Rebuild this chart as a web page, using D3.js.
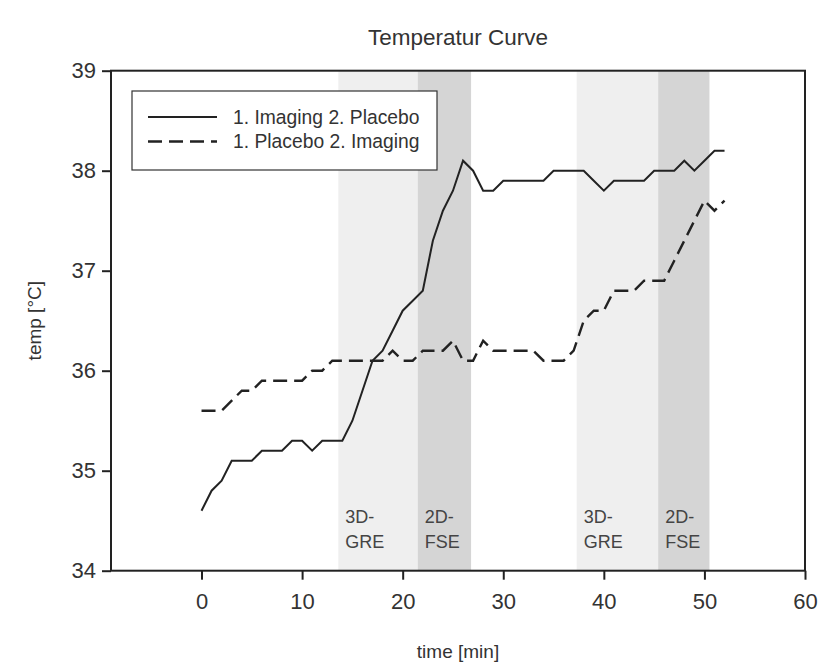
<!DOCTYPE html>
<html>
<head>
<meta charset="utf-8">
<script src="https://cdn.jsdelivr.net/npm/d3@7"></script>
<style>
  body { margin: 0; background: #fff; }
  svg text { font-family: "Liberation Sans", Arial, sans-serif; fill: #333; }
</style>
</head>
<body>
<svg id="chart" width="832" height="664"></svg>
<script>
// minutes 0..52
var minutes = [0,1,2,3,4,5,6,7,8,9,10,11,12,13,14,15,16,17,18,19,20,21,22,23,24,25,
  26,27,28,29,30,31,32,33,34,35,36,37,38,39,40,41,42,43,44,45,46,47,48,49,50,51,52];

var imagingFirst = [34.6,34.8,34.9,35.1,35.1,35.1,35.2,35.2,35.2,35.3,35.3,35.2,35.3,35.3,35.3,35.5,
  35.8,36.1,36.2,36.4,36.6,36.7,36.8,37.3,37.6,37.8,38.1,38.0,37.8,37.8,37.9,37.9,37.9,37.9,37.9,
  38.0,38.0,38.0,38.0,37.9,37.8,37.9,37.9,37.9,37.9,38.0,38.0,38.0,38.1,38.0,38.1,38.2,38.2];

var placeboFirst = [35.6,35.6,35.6,35.7,35.8,35.8,35.9,35.9,35.9,35.9,35.9,36.0,36.0,36.1,36.1,36.1,
  36.1,36.1,36.1,36.2,36.1,36.1,36.2,36.2,36.2,36.3,36.1,36.1,36.3,36.2,36.2,36.2,36.2,36.2,36.1,
  36.1,36.1,36.2,36.5,36.6,36.6,36.8,36.8,36.8,36.9,36.9,36.9,37.1,37.3,37.5,37.7,37.6,37.7];

var seriesNames = ["1. Imaging 2. Placebo", "1. Placebo 2. Imaging"];

// scan sequences (start, end in minutes)
var phaseStart = [13.6, 21.5, 37.3, 45.4];
var phaseEnd   = [21.5, 26.8, 45.4, 50.5];
var phaseLine1 = ["3D-", "2D-", "3D-", "2D-"];
var phaseLine2 = ["GRE", "FSE", "GRE", "FSE"];
var phaseShade = ["#efefef", "#d5d5d5", "#efefef", "#d5d5d5"];

var xTicks = [0, 10, 20, 30, 40, 50, 60];
var yTicks = [34, 35, 36, 37, 38, 39];

(function() {
  var svg = d3.select("#chart");
  var m = {left: 111, right: 805, top: 70.7, bottom: 570.7};

  var x = d3.scaleLinear().domain([-9, 60]).range([m.left, m.right]);
  var y = d3.scaleLinear().domain([34, 39]).range([m.bottom, m.top]);

  // shaded phases
  var phases = phaseStart.map(function(s, i) {
    return {s: s, e: phaseEnd[i], a: phaseLine1[i], b: phaseLine2[i], c: phaseShade[i]};
  });

  svg.append("g").selectAll("rect")
    .data(phases).enter().append("rect")
    .attr("x", function(d) { return x(d.s); })
    .attr("width", function(d) { return x(d.e) - x(d.s); })
    .attr("y", m.top)
    .attr("height", m.bottom - m.top)
    .attr("fill", function(d) { return d.c; });

  var lbl = svg.append("g").selectAll("text")
    .data(phases).enter().append("text")
    .attr("x", function(d) { return x(d.s) + 7; })
    .attr("font-size", 18)
    .style("fill", "#444");
  lbl.append("tspan").attr("y", 523).text(function(d) { return d.a; });
  lbl.append("tspan").attr("y", 548)
    .attr("x", function(d) { return x(d.s) + 7; })
    .text(function(d) { return d.b; });

  // lines
  var line = d3.line()
    .x(function(d) { return x(d[0]); })
    .y(function(d) { return y(d[1]); });

  svg.append("path")
    .datum(minutes.map(function(t, i) { return [t, imagingFirst[i]]; }))
    .attr("d", line)
    .attr("fill", "none")
    .attr("stroke", "#222")
    .attr("stroke-width", 2);

  svg.append("path")
    .datum(minutes.map(function(t, i) { return [t, placeboFirst[i]]; }))
    .attr("d", line)
    .attr("fill", "none")
    .attr("stroke", "#222")
    .attr("stroke-width", 2.4)
    .attr("stroke-dasharray", "14,7");

  // frame
  svg.append("rect")
    .attr("x", m.left).attr("y", m.top)
    .attr("width", m.right - m.left).attr("height", m.bottom - m.top)
    .attr("fill", "none").attr("stroke", "#222").attr("stroke-width", 2);

  // axes
  var xAxis = svg.append("g")
    .attr("transform", "translate(0," + m.bottom + ")")
    .call(d3.axisBottom(x).tickValues(xTicks).tickFormat(d3.format("d"))
      .tickSize(9).tickPadding(14));
  var yAxis = svg.append("g")
    .attr("transform", "translate(" + m.left + ",0)")
    .call(d3.axisLeft(y).tickValues(yTicks).tickFormat(d3.format("d"))
      .tickSize(9).tickPadding(6));

  [xAxis, yAxis].forEach(function(g) {
    g.select(".domain").remove();
    g.selectAll(".tick line").attr("stroke", "#222").attr("stroke-width", 2);
    g.selectAll(".tick text").attr("font-size", 22)
      .attr("font-family", "Liberation Sans, Arial, sans-serif").style("fill", "#333");
  });

  // titles
  svg.append("text")
    .attr("x", (m.left + m.right) / 2).attr("y", 45)
    .attr("text-anchor", "middle").attr("font-size", 22.5)
    .text("Temperatur Curve");

  svg.append("text")
    .attr("x", (m.left + m.right) / 2).attr("y", 658)
    .attr("text-anchor", "middle").attr("font-size", 19)
    .text("time [min]");

  svg.append("text")
    .attr("transform", "translate(41," + ((m.top + m.bottom) / 2) + ") rotate(-90)")
    .attr("text-anchor", "middle").attr("font-size", 19)
    .text("temp [°C]");

  // legend
  var legend = svg.append("g").attr("transform", "translate(132,91)");
  legend.append("rect")
    .attr("width", 305).attr("height", 79)
    .attr("fill", "#fff").attr("stroke", "#333").attr("stroke-width", 1.2);

  var items = legend.selectAll("g.item")
    .data(seriesNames).enter().append("g")
    .attr("class", "item")
    .attr("transform", function(d, i) { return "translate(0," + (26 + i * 24.5) + ")"; });

  items.append("line")
    .attr("x1", 16).attr("x2", 85)
    .attr("stroke", "#222")
    .attr("stroke-width", function(d, i) { return i ? 2.4 : 2; })
    .attr("stroke-dasharray", function(d, i) { return i ? "14,7" : null; });

  items.append("text")
    .attr("x", 101).attr("y", 6.5)
    .attr("font-size", 19.3)
    .text(function(d) { return d; });
})();
</script>
</body>
</html>
